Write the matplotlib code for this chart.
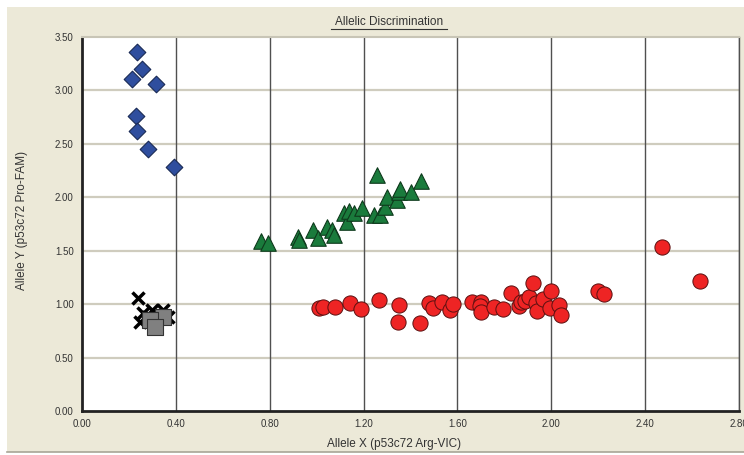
import matplotlib.pyplot as plt
from matplotlib.patches import Rectangle
from matplotlib.lines import Line2D

# allele X / allele Y readings per call group
homo_y_x = [0.236, 0.257, 0.215, 0.315, 0.230, 0.233, 0.283, 0.391]
homo_y_y = [3.357, 3.200, 3.107, 3.057, 2.763, 2.620, 2.452, 2.283]

hetero_x = [0.764, 0.794, 0.921, 0.925, 0.983, 1.006, 1.044, 1.066, 1.073, 1.115,
            1.130, 1.137, 1.161, 1.194, 1.258, 1.246, 1.268, 1.293, 1.301, 1.343,
            1.350, 1.357, 1.400, 1.446]
hetero_y = [1.594, 1.575, 1.625, 1.600, 1.694, 1.616, 1.719, 1.694, 1.647, 1.850,
            1.770, 1.867, 1.850, 1.897, 2.208, 1.834, 1.834, 1.912, 2.005, 1.975,
            2.052, 2.075, 2.052, 2.155]

homo_x_x = [1.009, 1.026, 1.080, 1.141, 1.189, 1.265, 1.353, 1.347, 1.440, 1.478,
            1.497, 1.535, 1.568, 1.582, 1.663, 1.699, 1.696, 1.699, 1.755, 1.794,
            1.827, 1.862, 1.869, 1.886, 1.905, 1.924, 1.933, 1.941, 1.966, 1.995,
            1.997, 2.033, 2.040, 2.199, 2.225, 2.471, 2.635]
homo_x_y = [0.961, 0.970, 0.970, 1.008, 0.955, 1.039, 0.992, 0.836, 0.821, 1.008,
            0.967, 1.023, 0.945, 1.001, 1.023, 1.023, 0.983, 0.924, 0.976, 0.955,
            1.107, 0.983, 1.023, 1.032, 1.070, 1.201, 1.008, 0.939, 1.045, 0.961,
            1.126, 0.992, 0.898, 1.123, 1.095, 1.538, 1.219]

undet_x = [0.238, 0.247, 0.262, 0.297, 0.347, 0.368, 0.280]
undet_y = [1.054, 0.836, 0.914, 0.945, 0.945, 0.882, 0.880]

ntc_x = [0.347, 0.290, 0.312]
ntc_y = [0.882, 0.852, 0.783]

xticks = [0.0, 0.4, 0.8, 1.2, 1.6, 2.0, 2.4, 2.8]
yticks = [0.0, 0.5, 1.0, 1.5, 2.0, 2.5, 3.0, 3.5]

W, H = 744, 455
plt.rcParams['font.family'] = ['Liberation Sans', 'DejaVu Sans']
fig = plt.figure(figsize=(W / 100, H / 100), dpi=100, facecolor='white')

# beige panel behind the plot
fig.patches.append(Rectangle((7 / W, 3 / H), 737 / W, 445 / H, transform=fig.transFigure,
                             facecolor='#ECE9D8', edgecolor='none', zorder=-5))
fig.lines.append(Line2D([7 / W, 1], [3 / H, 3 / H], transform=fig.transFigure,
                        color='#A8A596', lw=1.2, zorder=-4))

ax = fig.add_axes([82 / W, (H - 411) / H, 657 / W, 374 / H])
ax.set_facecolor('white')
ax.set_xlim(0, 2.8)
ax.set_ylim(0, 3.5)

for yv in yticks[1:-1]:
    ax.axhline(yv, color='#CFCCBE', lw=1.6, zorder=1)
for xv in xticks[1:]:
    ax.axvline(xv, color='#505050', lw=1.0, zorder=1)

ax.scatter(homo_y_x, homo_y_y, marker='D', s=72, c='#2F4E9E', edgecolors='#1A2A55',
           linewidths=0.8, zorder=3)
ax.scatter(hetero_x, hetero_y, marker='^', s=125, c='#1A7B3C', edgecolors='#0E3A1C',
           linewidths=0.8, zorder=3)
ax.scatter(homo_x_x, homo_x_y, marker='o', s=120, c='#EE2424', edgecolors='#5A1010',
           linewidths=0.7, zorder=3)
ax.scatter(undet_x, undet_y, marker='x', s=75, c='black', linewidths=2.5, zorder=3)
ax.scatter(ntc_x, ntc_y, marker='s', s=120, c='#808080', edgecolors='#333333',
           linewidths=0.8, zorder=4)

ax.set_xticks(xticks)
ax.set_yticks(yticks)
ax.set_xticklabels([f'{v:.2f}' for v in xticks])
ax.set_yticklabels([f'{v:.2f}' for v in yticks])
ax.tick_params(length=0, labelsize=7, colors='#333333', pad=6)

for side in ['left', 'bottom']:
    ax.spines[side].set_color('#222222')
    ax.spines[side].set_linewidth(2)
ax.spines['top'].set_color('#C8C5B6')
ax.spines['top'].set_linewidth(1.5)
ax.spines['right'].set_color('#505050')
ax.spines['right'].set_linewidth(1.0)

ax.set_xlabel('Allele X (p53c72 Arg-VIC)', fontsize=8.5, color='#333333', va='center')
ax.xaxis.set_label_coords(0.475, -33 / 374)
ax.set_ylabel('Allele Y (p53c72 Pro-FAM)', fontsize=8.5, color='#333333', va='center')
ax.yaxis.set_label_coords(-60 / 657, 0.51)

fig.text(389 / W, 1 - 22 / H, 'Allelic Discrimination', ha='center', va='center',
         fontsize=8.5, color='#333333')
fig.lines.append(Line2D([331 / W, 447 / W], [1 - 29 / H, 1 - 29 / H], transform=fig.transFigure,
                        color='#333333', lw=0.8))

fig.savefig('out.png', dpi=100, facecolor=fig.get_facecolor())
